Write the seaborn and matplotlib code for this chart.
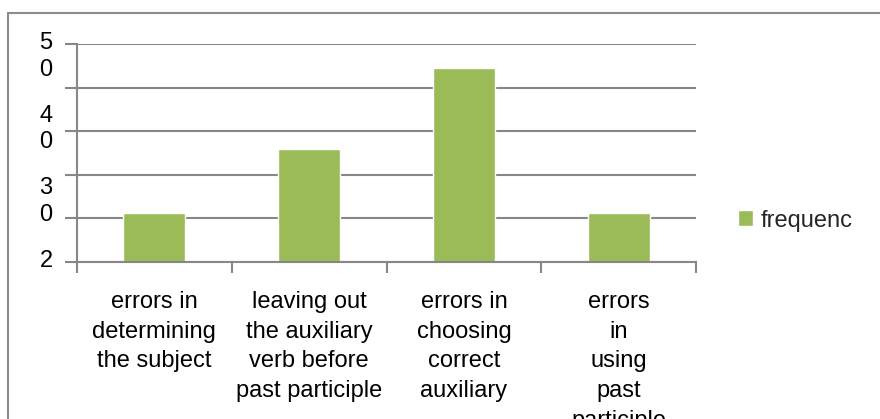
import numpy as np
import matplotlib
matplotlib.use("Agg")
import matplotlib.pyplot as plt
import matplotlib.transforms as mtransforms
from matplotlib.patches import Rectangle
import seaborn as sns

# Dados do grafico
categories = [
    "errors in\ndetermining\nthe subject",
    "leaving out\nthe auxiliary\nverb before\npast participle",
    "errors in\nchoosing\ncorrect\nauxiliary",
    "errors\nin\nusing\npast\nparticiple",
]
frequency = [26.7, 35.6, 46.7, 26.7]
series_name = "frequenc"
y_label_values = [50, 40, 30, 20]
y_label_texts = ["5\n0", "4\n0", "3\n0", "2"]
y_min, y_max = 20, 50

bar_color = "#9BBB59"
line_color = "#878787"

sns.set_theme(style="white")
plt.rcParams['font.family'] = ['Liberation Sans', 'DejaVu Sans']
font_size = 17

W, H = 880, 419
fig = plt.figure(figsize=(W / 100, H / 100), dpi=100)
ax = fig.add_axes([77 / W, 1 - 262 / H, (696 - 77) / W, (262 - 44) / H])

# Barras
sns.barplot(x=categories, y=frequency, color=bar_color, width=0.4,
            saturation=1, label=series_name, ax=ax)

ax.set_xlim(-0.5, len(categories) - 0.5)
ax.set_ylim(y_min, y_max)
ax.set_xlabel("")
ax.set_ylabel("")

# Grade horizontal e marcas do eixo y
ax.set_yticks(np.linspace(y_min, y_max, 6))
ax.yaxis.grid(True, color=line_color, linewidth=1.5)
ax.set_axisbelow(True)
ax.tick_params(axis='y', which='major', direction='out', length=9, width=1.5,
               color=line_color, labelleft=False, left=True)

# Marcas do eixo x nas divisas das categorias, rotulos no centro
ax.set_xticks(np.arange(len(categories) + 1) - 0.5)
ax.set_xticklabels([""] * (len(categories) + 1))
ax.set_xticks(np.arange(len(categories)), minor=True)
ax.set_xticklabels(categories, minor=True, fontsize=font_size,
                   linespacing=1.45, color='black')
ax.tick_params(axis='x', which='major', direction='out', length=8, width=1.5,
               color=line_color, bottom=True)
ax.tick_params(axis='x', which='minor', length=0, pad=21)

for side in ['top', 'right']:
    ax.spines[side].set_visible(False)
for side in ['left', 'bottom']:
    ax.spines[side].set_color(line_color)
    ax.spines[side].set_linewidth(1.5)

# Rotulos do eixo y (quebrados em duas linhas)
trans = mtransforms.offset_copy(ax.get_yaxis_transform(), fig=fig, x=0, y=12, units='dots')
for val, txt in zip(y_label_values, y_label_texts):
    ax.text(-31 / 619, val, txt, transform=trans, ha='center', va='top',
            fontsize=font_size, linespacing=1.28, color='black')

# Legenda
ax.legend(loc='center left', bbox_to_anchor=((738 - 77) / 619, (262 - 220.5) / 218),
          frameon=False, handlelength=0.65, handleheight=0.65, handletextpad=0.3,
          fontsize=font_size, borderaxespad=0, borderpad=0)

# Moldura do grafico
fig.patches.append(Rectangle((8 / W, -0.1), 1.2, 1 - 13 / H + 0.1, transform=fig.transFigure,
                             fill=False, edgecolor='#8c8c8c', linewidth=1.5))

fig.savefig('out.png', dpi=100)
